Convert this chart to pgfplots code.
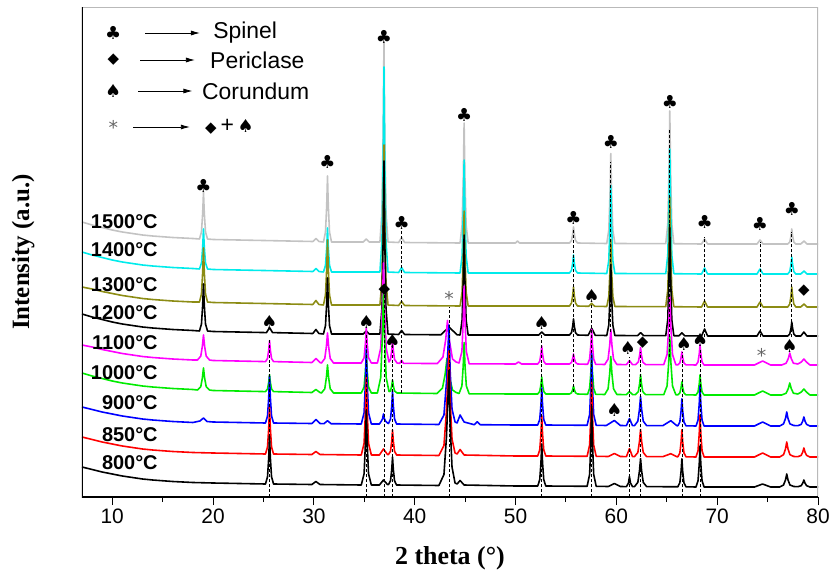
\documentclass[border=0pt]{standalone}
\usepackage{pgfplots}
\pgfplotsset{compat=1.18}
\usepackage{fontspec}
\setmainfont{Liberation Serif}
\setsansfont{Liberation Sans}
\newfontfamily\symf{DejaVu Sans}
\usetikzlibrary{arrows.meta}
\definecolor{cA}{RGB}{195,195,195}
\definecolor{cB}{RGB}{0,235,235}
\definecolor{cC}{RGB}{140,140,20}
\definecolor{cD}{RGB}{0,0,0}
\definecolor{cE}{RGB}{255,0,255}
\definecolor{cF}{RGB}{0,235,0}
\definecolor{cG}{RGB}{0,0,255}
\definecolor{cH}{RGB}{255,0,0}
\definecolor{cI}{RGB}{0,0,0}
\newcommand{\club}{{\symf\fontsize{18}{18}\selectfont ♣}}
\newcommand{\spade}{{\symf\fontsize{18}{18}\selectfont ♠}}
\newcommand{\dia}{{\symf\fontsize{15}{15}\selectfont ◆}}
\newcommand{\astk}{{\symf\fontsize{19}{19}\selectfont\color{gray!80!black} *}}
\begin{document}
\begin{tikzpicture}
\begin{axis}[
  at={(0,0)}, anchor=south west,
  scale only axis, width=736bp, height=490bp,
  xmin=7, xmax=80, ymin=0, ymax=490,
  xtick={10,20,...,80}, minor xtick={15,25,...,75},
  ytick=\empty,
  xtick pos=bottom, tick align=outside,
  major tick length=8bp, minor tick length=5bp,
  tick style={black, line width=1pt},
  axis line style={draw=none},
  /pgf/number format/assume math mode=true,
  xticklabel style={font=\fontsize{21}{25}\selectfont\sffamily},
  xlabel={2 theta (°)},
  xlabel style={font=\fontsize{26}{30}\selectfont\bfseries, at={(axis description cs:0.50,-0.126)}, anchor=center},
  ylabel={Intensity (a.u.)},
  ylabel style={font=\fontsize{25}{29}\selectfont\bfseries, at={(axis description cs:-0.080,0.50)}, anchor=center},
  no markers, line join=round,
  every axis plot/.append style={line width=1.6pt},
]
% 1500
\addplot[cA] coordinates {(7,275)(8,272)(9,269.5)(10,267)(11,265)(12,263.5)(13,262)(14,261)(16,259.5)(18,258.5)
(18.65,258)(18.85,265)(18.97,284)(19.05,305)(19.13,284)(19.25,265)(19.45,258)(20,257.5)(25,256.5)
(29.9,255.5)(30.2,258.5)(30.5,255.5)
(30.95,255)(31.15,265)(31.27,291)(31.35,321)(31.43,291)(31.55,265)(31.75,255)
(34.9,255)(35.2,258)(35.5,255)
(36.55,255)(36.75,285)(36.87,365)(36.95,455)(37.03,365)(37.15,285)(37.35,255)
(38.4,254.5)(38.7,259.5)(39,254.5)
(44.5,254)(44.7,272)(44.82,320)(44.9,374)(44.98,320)(45.1,272)(45.3,254)
(50,254)(50.2,256)(50.4,254)
(55.35,254)(55.55,256.5)(55.67,263)(55.75,270)(55.83,263)(55.95,256.5)(56.15,254)
(59.05,253.5)(59.25,267)(59.37,303)(59.45,343.5)(59.53,303)(59.65,267)(59.85,253.5)
(64.9,253.3)(65.1,273)(65.22,326)(65.3,386)(65.38,326)(65.5,273)(65.7,253.3)
(68.45,253)(68.75,258)(69.05,253)
(73.95,253)(74.25,257)(74.55,253)
(77.0,253)(77.2,255)(77.32,261)(77.4,268)(77.48,261)(77.6,255)(77.8,253)
(78.3,253)(78.6,256)(78.9,253)(80,253)};
% 1400
\addplot[cB] coordinates {(7,245)(8,242)(9,239.5)(10,237)(11,235)(12,233.5)(13,232)(14,231)(16,229.5)(18,228.5)
(18.65,228)(18.85,234)(18.97,250)(19.05,268)(19.13,250)(19.25,234)(19.45,228)(20,227.5)(25,226.5)
(29.9,225.5)(30.2,228.5)(30.5,225.5)
(30.95,225)(31.15,231.6)(31.27,249)(31.35,269)(31.43,249)(31.55,231.6)(31.75,225)
(36.55,225)(36.75,256)(36.87,338)(36.95,430)(37.03,338)(37.15,256)(37.35,225)
(38.4,224.5)(38.7,229.5)(39,224.5)
(44.5,224)(44.7,241)(44.82,286)(44.9,337)(44.98,286)(45.1,241)(45.3,224)
(55.35,224)(55.55,226.7)(55.67,234)(55.75,242)(55.83,234)(55.95,226.7)(56.15,224)
(59.05,223.5)(59.25,236.7)(59.37,272)(59.45,311.5)(59.53,272)(59.65,236.7)(59.85,223.5)
(64.9,223.3)(65.1,242)(65.22,292)(65.3,348)(65.38,292)(65.5,242)(65.7,223.3)
(68.45,223)(68.75,229)(69.05,223)
(73.95,223)(74.25,228)(74.55,223)
(77.0,223)(77.2,225.5)(77.32,232.4)(77.4,240)(77.48,232.4)(77.6,225.5)(77.8,223)
(78.3,223)(78.6,226)(78.9,223)(80,223)};
% 1300
\addplot[cC] coordinates {(7,210)(8,208)(9,205.5)(10,203.5)(11,201.5)(12,200)(13,198.5)(14,197.5)(16,196)(18,195)
(18.65,195)(18.85,203)(18.97,225)(19.05,249)(19.13,225)(19.25,203)(19.45,195)(20,194.5)(25,193.5)
(29.9,192.5)(30.2,196.5)(30.5,192.5)
(30.95,192)(31.15,202)(31.27,228)(31.35,257)(31.43,228)(31.55,202)(31.75,192)
(36.55,192)(36.75,216)(36.87,280)(36.95,352)(37.03,280)(37.15,216)(37.35,192)
(38.4,191.5)(38.7,195.5)(39,191.5)
(44.5,191)(44.7,205)(44.82,243)(44.9,286)(44.98,243)(45.1,205)(45.3,191)
(55.35,191)(55.55,194)(55.67,201.5)(55.75,210)(55.83,201.5)(55.95,194)(56.15,191)
(57.25,190.7)(57.55,193.7)(57.85,190.7)
(59.05,190.5)(59.25,200.5)(59.37,227)(59.45,257.5)(59.53,227)(59.65,200.5)(59.85,190.5)
(64.9,190.3)(65.1,207)(65.22,251)(65.3,300)(65.38,251)(65.5,207)(65.7,190.3)
(68.45,190)(68.75,196)(69.05,190)
(73.95,190)(74.25,195)(74.55,190)
(77.0,190)(77.2,193)(77.32,201)(77.4,210)(77.48,201)(77.6,193)(77.8,190)
(78.3,190)(78.6,193)(78.9,190)(80,190)};
% 1200
\addplot[cD] coordinates {(7,183)(8,180)(9,177.5)(10,175)(11,173)(12,171.5)(13,170)(14,169)(16,167.5)(18,166.5)
(18.65,166)(18.85,173)(18.97,192)(19.05,213)(19.13,192)(19.25,173)(19.45,166)(20,165.5)
(25.3,164.4)(25.6,169.4)(25.9,164.4)
(29.9,163.5)(30.2,167.5)(30.5,163.5)
(30.95,163)(31.15,171.4)(31.27,193.8)(31.35,219)(31.43,193.8)(31.55,171.4)(31.75,163)
(34.9,163)(35.2,166)(35.5,163)
(36.55,163)(36.75,189)(36.87,258)(36.95,336)(37.03,258)(37.15,189)(37.35,163)
(38.4,162.5)(38.7,166.5)(39,162.5)
(42.6,162.2)(43.4,170)(44.2,162.2)
(44.5,162)(44.7,177)(44.82,217)(44.9,262)(44.98,217)(45.1,177)(45.3,162)
(52.3,162)(52.6,165)(52.9,162)
(55.35,162)(55.55,164.4)(55.67,170.8)(55.75,178)(55.83,170.8)(55.95,164.4)(56.15,162)
(57.2,161.7)(57.55,168.7)(57.9,161.7)
(59.05,161.5)(59.25,172)(59.37,200.5)(59.45,232.5)(59.53,200.5)(59.65,172)(59.85,161.5)
(62.1,161.4)(62.4,164.4)(62.7,161.4)
(64.9,161.3)(65.1,177.5)(65.22,220.7)(65.3,269.3)(65.38,220.7)(65.5,177.5)(65.7,161.3)
(66.2,161.2)(66.5,164.2)(66.8,161.2)
(68.45,161)(68.75,168)(69.05,161)
(73.95,161)(74.25,166)(74.55,161)
(77.0,161)(77.2,163)(77.32,168.7)(77.4,175)(77.48,168.7)(77.6,163)(77.8,161)
(78.3,161)(78.6,165)(78.9,161)(80,161)};
% 1100
\addplot[cE] coordinates {(7,152)(8,150)(9,147.5)(10,145.5)(11,143.5)(12,142)(13,140.5)(14,139.5)(16,138)(18,137)
(18.45,137)(18.78,140.8)(18.94,150.8)(19.05,162)(19.16,150.8)(19.32,140.8)(19.65,137)(20,136.5)
(25.2,135.4)(25.4,138.5)(25.52,147)(25.6,156.4)(25.68,147)(25.8,138.5)(26,135.4)
(29.8,134.5)(30.2,138.5)(30.6,134.5)
(30.75,134)(31.08,138.5)(31.24,150.5)(31.35,164)(31.46,150.5)(31.62,138.5)(31.95,134)
(34.7,134)(34.98,139.3)(35.11,153.3)(35.2,169)(35.29,153.3)(35.42,139.3)(35.7,134)
(36.3,134)(36.63,149)(36.79,189)(36.9,234)(37.01,189)(37.17,149)(37.45,135)
(37.6,137.5)(37.72,146.6)(37.8,157)(37.88,146.6)(38.0,137.5)(38.25,134)
(38.5,133.6)(38.7,136.6)(38.9,133.6)
(42.25,133.5)(42.8,140)(43.07,157)(43.25,176.5)(43.43,157)(43.75,138)(44.1,135)(44.4,134)
(44.68,145.5)(44.81,176)(44.9,211)(44.99,176)(45.12,145.5)(45.4,133.2)
(50,133)(50.3,135)(50.6,133)
(52.2,133)(52.4,135.7)(52.52,142.9)(52.6,151)(52.68,142.9)(52.8,135.7)(53,133)
(55.35,133)(55.55,134.5)(55.67,138.5)(55.75,143)(55.83,138.5)(55.95,134.5)(56.15,133)
(57.15,132.7)(57.35,138)(57.47,152)(57.55,167.7)(57.63,152)(57.75,138)(57.95,132.7)
(58.85,132.5)(59.18,137.8)(59.34,151.8)(59.45,167.5)(59.56,151.8)(59.72,137.8)(60.05,132.5)
(61.0,132.4)(61.3,136.4)(61.6,132.4)
(61.9,132.4)(62.18,135)(62.31,141.8)(62.4,149.4)(62.49,141.8)(62.62,135)(62.9,132.4)
(64.7,132.3)(65.03,142.5)(65.19,169.7)(65.3,200.3)(65.41,169.7)(65.57,142.5)(65.9,132.3)
(66.1,132.2)(66.3,134.2)(66.42,139.4)(66.5,145.2)(66.58,139.4)(66.7,134.2)(66.9,132.2)
(67.9,132)(68.1,135)(68.22,143)(68.3,152)(68.38,143)(68.5,135)(68.7,132)
(73.7,132)(74.5,136)(75.3,132)
(76.4,132)(76.84,133.8)(77.06,138.6)(77.2,144)(77.34,138.6)(77.56,133.8)
(78.0,133)(78.35,135)(78.6,138)(78.85,135)(79.2,132)(80,132)};
% 1000
\addplot[cF] coordinates {(7,124)(8,121)(9,118.5)(10,116)(11,114)(12,112.5)(13,111)(14,110)(16,108.5)(18,107.5)
(18.45,107)(18.78,110.3)(18.94,119.1)(19.05,129)(19.16,119.1)(19.32,110.3)(19.65,107)(20,106.5)
(25.2,105.4)(25.4,108)(25.52,114.8)(25.6,122.4)(25.68,114.8)(25.8,108)(26,105.4)
(29.8,104.5)(30.2,107.5)(30.6,104.5)
(30.75,104)(31.08,108.2)(31.24,119.4)(31.35,132)(31.46,119.4)(31.62,108.2)(31.95,104)
(34.7,104)(34.98,110)(35.11,126)(35.2,144)(35.29,126)(35.42,110)(35.7,104)
(36.3,104)(36.63,119.5)(36.79,160.6)(36.9,207)(37.01,160.6)(37.17,119.5)(37.45,105.5)
(37.6,106)(37.72,111.2)(37.8,117)(37.88,111.2)(38.0,106)(38.25,104)
(42.2,103.5)(42.75,108.8)(43.02,122.8)(43.2,138.5)(43.38,122.8)(43.75,107)(44.1,104.5)(44.4,103.5)
(44.68,111)(44.81,131)(44.9,154.5)(44.99,131)(45.12,111)(45.4,103.2)
(50,103)
(52.2,103)(52.4,105.6)(52.52,112.4)(52.6,120)(52.68,112.4)(52.8,105.6)(53,103)
(55.35,103)(55.55,104.2)(55.67,107.4)(55.75,111)(55.83,107.4)(55.95,104.2)(56.15,103)
(57.15,102.7)(57.35,108.7)(57.47,124.7)(57.55,142.7)(57.63,124.7)(57.75,108.7)(57.95,102.7)
(58.85,102.5)(59.18,108.2)(59.34,123.4)(59.45,140.5)(59.56,123.4)(59.72,108.2)(60.05,102.5)
(61.0,102.4)(61.3,105.4)(61.6,102.4)
(61.9,102.4)(62.18,105.4)(62.31,113.4)(62.4,122.4)(62.49,113.4)(62.62,105.4)(62.9,102.4)
(64.7,102.3)(65.03,111)(65.19,134.2)(65.3,160.3)(65.41,134.2)(65.57,111)(65.9,102.3)
(66.1,102.2)(66.3,104.2)(66.42,109.4)(66.5,115.2)(66.58,109.4)(66.7,104.2)(66.9,102.2)
(67.9,102)(68.1,105)(68.22,113)(68.3,122)(68.38,113)(68.5,105)(68.7,102)
(73.7,102)(74.5,106)(75.3,102)
(76.4,102)(76.84,103.8)(77.06,108.6)(77.2,114)(77.34,108.6)(77.56,103.8)
(78.0,103)(78.35,105)(78.6,108)(78.85,105)(79.2,102)(80,102)};
% 900
\addplot[cG] coordinates {(7,90)(8,87.5)(9,85)(10,83)(11,81)(12,79.5)(13,78)(14,77)(16,75.5)(18,74.5)
(18.7,76)(19.05,79)(19.4,75.5)(20,75)
(25.2,74)(25.4,81)(25.52,99.9)(25.6,121)(25.68,99.9)(25.8,81)(26,74)
(29.8,73.5)(30.2,77.5)(30.6,73.5)(31.0,73.3)(31.35,76.3)(31.7,73.3)
(34.7,73)(34.98,84.3)(35.11,114.3)(35.2,148)(35.29,114.3)(35.42,84.3)(35.7,73)
(36.5,73)(36.7,76)(36.82,78.5)(36.9,83)(36.98,78.5)(37.1,76)(37.3,74)
(37.4,73.5)(37.6,78)(37.72,91)(37.8,106)(37.88,91)(38,78)(38.2,73)
(42.4,72.5)(42.9,82)(43.15,115)(43.4,172)(43.52,125)(43.7,88)(44.0,75)
(44.2,74)(44.5,82)(44.9,75)(45.9,72.3)(46.2,75.3)(46.5,72.3)(50,72)
(52.2,72)(52.4,77.5)(52.52,92.3)(52.6,109)(52.68,92.3)(52.8,77.5)(53,72)
(57.1,71.7)(57.35,82.5)(57.47,111.3)(57.55,143.7)(57.63,111.3)(57.75,82.5)(58,71.7)
(59.0,71.5)(59.8,76.5)(60.4,71.5)
(61.0,71.4)(61.3,78.4)(61.6,71.4)
(61.8,71.4)(62.13,75.8)(62.29,87.4)(62.4,100.4)(62.51,87.4)(62.67,75.8)(63.0,71.4)
(64.6,71.3)(65.4,76.3)(66.0,71.3)
(66.1,71.2)(66.3,75.2)(66.42,86)(66.5,98.2)(66.58,86)(66.7,75.2)(66.9,71.2)
(67.9,71)(68.1,77)(68.22,93)(68.3,111)(68.38,93)(68.5,77)(68.7,71)
(73.7,71)(74.5,75)(75.3,71)
(76.2,71)(76.58,73.1)(76.78,78.7)(76.9,85)(77.02,78.7)(77.22,73.1)(77.6,71.5)
(78.0,71.3)(78.33,72.6)(78.49,76)(78.6,80)(78.71,76)(78.87,72.6)(79.2,71)(80,71)};
% 850
\addplot[cH] coordinates {(7,60)(8,57.5)(9,55)(10,53)(11,51)(12,49.5)(13,48)(14,47)(16,45.5)(18,44.5)(20,44)
(25.2,43)(25.4,50)(25.52,68.9)(25.6,90)(25.68,68.9)(25.8,50)(26,43)
(29.8,42.5)(30.2,45.5)(30.6,42.5)
(34.7,42)(34.98,53.7)(35.11,84.9)(35.2,120)(35.29,84.9)(35.42,53.7)(35.7,42)
(36.5,42)(36.9,48)(37.3,42.5)
(37.4,42.5)(37.6,45.8)(37.72,55.8)(37.8,67)(37.88,55.8)(38,45.8)(38.2,42)
(42.4,41.5)(42.9,51.5)(43.15,86)(43.4,146)(43.52,96)(43.7,58)(44.0,44)
(44.2,43)(44.5,47.5)(44.9,42)(50,41)
(52.2,41)(52.4,47)(52.52,63)(52.6,81)(52.68,63)(52.8,47)(53,41)
(57.1,40.7)(57.35,52)(57.47,82)(57.55,115.7)(57.63,82)(57.75,52)(58,40.7)
(59.2,40.5)(59.8,43.5)(60.4,40.5)
(61.0,40.4)(61.3,48.4)(61.6,40.4)
(61.8,40.4)(62.13,44.5)(62.29,55.2)(62.4,67.4)(62.51,55.2)(62.67,44.5)(63.0,40.4)
(64.6,40.3)(65.4,43.3)(66.0,40.3)
(66.1,40.2)(66.3,44.2)(66.42,55)(66.5,67.2)(66.58,55)(66.7,44.2)(66.9,40.2)
(67.9,40)(68.1,46.3)(68.22,63.1)(68.3,82)(68.38,63.1)(68.5,46.3)(68.7,40)
(73.7,40)(74.5,44)(75.3,40)
(76.2,40)(76.58,42.3)(76.78,48.3)(76.9,55)(77.02,48.3)(77.22,42.3)(77.6,40.5)
(78.0,40.3)(78.33,41.6)(78.49,45)(78.6,49)(78.71,45)(78.87,41.6)(79.2,40)(80,40)};
% 800
\addplot[cI] coordinates {(7,30)(8,27.5)(9,25)(10,23)(11,21)(12,19.5)(13,18)(14,17)(16,15.5)(18,14.5)(20,14)
(25.2,13)(25.4,20.2)(25.52,39.4)(25.6,61)(25.68,39.4)(25.8,20.2)(26,13)
(29.8,12.5)(30.2,15.5)(30.6,12.5)
(34.7,12)(34.98,23.3)(35.11,53.3)(35.2,87)(35.29,53.3)(35.42,23.3)(35.7,12)
(36.5,12)(36.9,17)(37.3,12.5)
(37.4,12.5)(37.6,16.2)(37.72,27.4)(37.8,40)(37.88,27.4)(38,16.2)(38.2,12)
(42.4,11.5)(42.9,22.5)(43.15,60)(43.4,126.5)(43.52,71)(43.7,30)(44.0,14)
(44.2,13)(44.5,16.5)(44.9,12)(50,11)
(52.2,11)(52.4,17.3)(52.52,34.1)(52.6,53)(52.68,34.1)(52.8,17.3)(53,11)
(57.1,10.7)(57.35,22.7)(57.47,54.7)(57.55,90.7)(57.63,54.7)(57.75,22.7)(58,10.7)
(59.2,10.5)(59.8,13.5)(60.4,10.5)
(61.0,10.4)(61.2,14)(61.3,20.4)(61.4,14)(61.6,10.4)
(61.8,10.4)(62.13,14.6)(62.29,25.8)(62.4,38.4)(62.51,25.8)(62.67,14.6)(63.0,10.4)
(66.1,10.2)(66.3,14.4)(66.42,25.6)(66.5,38.2)(66.58,25.6)(66.7,14.4)(66.9,10.2)
(67.9,10)(68.1,16.2)(68.22,32.6)(68.3,51)(68.38,32.6)(68.5,16.2)(68.7,10)
(73.7,10)(74.5,13)(75.3,10)
(76.2,10)(76.58,12)(76.78,17.2)(76.9,23)(77.02,17.2)(77.22,12)(77.6,10.5)
(78.0,10.3)(78.33,11.3)(78.49,13.9)(78.6,17)(78.71,13.9)(78.87,11.3)(79.2,10)(80,10)};
% dashed guide lines
\begin{scope}[black, line width=0.7pt, dash pattern=on 3pt off 2pt]
\draw (axis cs:25.6,0) -- (axis cs:25.6,157);
\draw (axis cs:35.2,0) -- (axis cs:35.2,164);
\draw (axis cs:37.0,0) -- (axis cs:37.0,204);
\draw (axis cs:37.8,0) -- (axis cs:37.8,154);
\draw (axis cs:38.7,104) -- (axis cs:38.7,267);
\draw (axis cs:43.4,0) -- (axis cs:43.4,190);
\draw (axis cs:52.6,0) -- (axis cs:52.6,165);
\draw (axis cs:55.75,105) -- (axis cs:55.75,267);
\draw (axis cs:57.55,0) -- (axis cs:57.55,192);
\draw (axis cs:59.45,165) -- (axis cs:59.45,335);
\draw (axis cs:61.3,0) -- (axis cs:61.3,140);
\draw (axis cs:62.4,0) -- (axis cs:62.4,145);
\draw (axis cs:65.3,140) -- (axis cs:65.3,367);
\draw (axis cs:66.5,0) -- (axis cs:66.5,145);
\draw (axis cs:68.3,0) -- (axis cs:68.3,148);
\draw (axis cs:68.75,160) -- (axis cs:68.75,260);
\draw (axis cs:74.25,160) -- (axis cs:74.25,255);
\draw (axis cs:77.4,160) -- (axis cs:77.4,265);
\end{scope}
% phase symbols
\node at (axis cs:19.05,311) {\club};
\node at (axis cs:31.35,335) {\club};
\node at (axis cs:36.95,460) {\club};
\node at (axis cs:38.7,274) {\club};
\node at (axis cs:44.9,382) {\club};
\node at (axis cs:55.75,279) {\club};
\node at (axis cs:59.45,355) {\club};
\node at (axis cs:65.3,395) {\club};
\node at (axis cs:68.75,275) {\club};
\node at (axis cs:74.25,273) {\club};
\node at (axis cs:77.4,288) {\club};
\node at (axis cs:37.0,207) {\dia};
\node[inner sep=0pt] at (axis cs:62.6,154) {\dia};
\node at (axis cs:78.6,206) {\dia};
\node at (axis cs:25.6,175) {\spade};
\node at (axis cs:35.2,175) {\spade};
\node at (axis cs:37.8,156) {\spade};
\node at (axis cs:52.6,174) {\spade};
\node at (axis cs:57.55,201) {\spade};
\node[inner sep=0pt] at (axis cs:61.15,149) {\spade};
\node at (axis cs:66.7,153) {\spade};
\node at (axis cs:68.3,157) {\spade};
\node at (axis cs:59.8,87) {\spade};
\node at (axis cs:77.2,151) {\spade};
\node at (axis cs:43.4,199) {\astk};
\node at (axis cs:74.4,142) {\astk};
% legend
\node at (axis cs:10.1,464) {\club};
\draw[line width=0.8pt, -{Latex[length=9bp,width=5bp]}] (axis cs:13.26,464) -- (axis cs:18.7,464);
\node[anchor=west, inner sep=0pt, font=\fontsize{23}{27}\selectfont\sffamily] at (axis cs:20.0,464) {Spinel};
\node at (axis cs:10.1,437) {\dia};
\draw[line width=0.8pt, -{Latex[length=9bp,width=5bp]}] (axis cs:12.76,437) -- (axis cs:18.2,437);
\node[anchor=west, inner sep=0pt, font=\fontsize{23}{27}\selectfont\sffamily] at (axis cs:19.7,437) {Periclase};
\node at (axis cs:10.1,406) {\spade};
\draw[line width=0.8pt, -{Latex[length=9bp,width=5bp]}] (axis cs:12.56,406) -- (axis cs:17.95,406);
\node[anchor=west, inner sep=0pt, font=\fontsize{23}{27}\selectfont\sffamily] at (axis cs:18.9,406) {Corundum};
\node at (axis cs:10.1,370) {\astk};
\draw[line width=0.8pt, -{Latex[length=9bp,width=5bp]}] (axis cs:12.06,370) -- (axis cs:17.7,370);
\node[anchor=west, font=\fontsize{23}{27}\selectfont\sffamily, inner sep=0pt] at (axis cs:19.2,370) {\dia\,+\,\spade};
% curve labels
\begin{scope}[font=\fontsize{20}{24}\selectfont\sffamily\bfseries]
\node[anchor=east] at (axis cs:14.85,275) {1500°C};
\node[anchor=east] at (axis cs:14.85,247) {1400°C};
\node[anchor=east] at (axis cs:14.85,212) {1300°C};
\node[anchor=east] at (axis cs:14.85,184) {1200°C};
\node[anchor=east] at (axis cs:14.85,154) {1100°C};
\node[anchor=east] at (axis cs:14.85,124) {1000°C};
\node[anchor=east] at (axis cs:14.85,94) {900°C};
\node[anchor=east] at (axis cs:14.85,62) {850°C};
\node[anchor=east] at (axis cs:14.85,34) {800°C};
\end{scope}
% frame
\draw[gray!55, line width=1.2pt] (rel axis cs:0,1) -- (rel axis cs:1,1) -- (rel axis cs:1,0);
\draw[black, line width=1.3pt] (rel axis cs:0,1) -- (rel axis cs:0,0) -- (rel axis cs:1,0);
\end{axis}
\pgfresetboundingbox
\useasboundingbox (-82bp,-79bp) rectangle (748bp,497bp);
\end{tikzpicture}
\end{document}
